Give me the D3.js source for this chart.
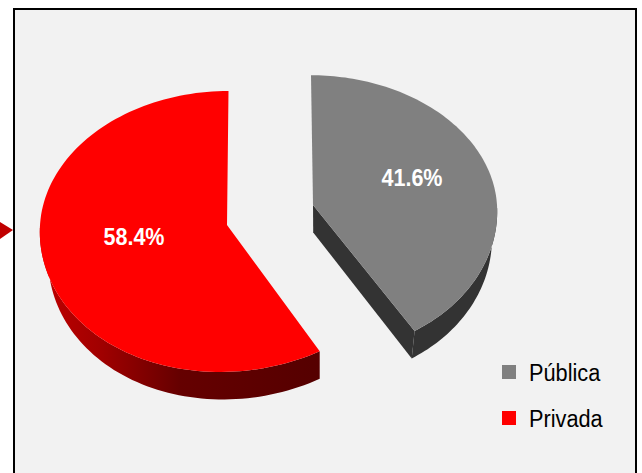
<!DOCTYPE html>
<html>
<head>
<meta charset="utf-8">
<script src="https://cdn.jsdelivr.net/npm/d3@7"></script>
<style>
  html, body { margin: 0; padding: 0; background: #fff; }
  svg { display: block; }
</style>
</head>
<body>
<svg id="chart" width="642" height="473"></svg>
<script>
// values
const categories = ["Pública", "Privada"];
const shares = [41.6, 58.4];
const sliceColors = ["#808080", "#ff0000"];

const svg = d3.select("#chart");
const defs = svg.append("defs");

// panel
svg.append("rect").attr("x", 14).attr("y", 9).attr("width", 622).attr("height", 470)
  .attr("fill", "#f2f2f2").attr("stroke", "#000").attr("stroke-width", 2);

// little arrow cut by the left border
svg.append("path").attr("d", d3.line()([[0, 222], [13, 230], [0, 239]]))
  .attr("fill", "#c00000");

// per slice placement, the slices are exploded so each one has its own center
// shear/lean/sag fake the way the 3d view skews the front and the back of each slice
const placement = [
  { cx: 313, cy: 205, rx: 184, ry: 136, shear: 7, lean: -2, sag: 5, wall: "#333333", closeWall: true },
  { cx: 227, cy: 225, rx: 187, ry: 140.5, shear: -7, lean: 1.5, sag: 0, wall: "url(#redwall)", closeWall: false }
];

const grad = defs.append("linearGradient").attr("id", "redwall")
  .attr("gradientUnits", "userSpaceOnUse")
  .attr("x1", 40).attr("x2", 320).attr("y1", 0).attr("y2", 0);
grad.append("stop").attr("offset", "0").attr("stop-color", "#c00000");
grad.append("stop").attr("offset", "0.22").attr("stop-color", "#a00000");
grad.append("stop").attr("offset", "0.5").attr("stop-color", "#650000");
grad.append("stop").attr("offset", "1").attr("stop-color", "#550000");

const pieGen = d3.pie().sort(null);
const arcs = pieGen(shares);

const persp = 0.046;
const depth = 27.5;
const vanishX = 320;

// unit circle angle -> screen point of the top face
function topPoint(p, a, r) {
  const u = Math.sin(a) * r, v = -Math.cos(a) * r;
  const s = 1 + persp * v;
  const skew = v > 0 ? p.shear * v * v : p.lean * v * v;
  const drop = v > 0 ? p.sag * v * v : 0;
  return [p.cx + p.rx * u * s + skew, p.cy + p.ry * v * s + drop];
}
// same point pushed down to the bottom of the wall
function lowPoint(pt) {
  return [vanishX + (pt[0] - vanishX) * 0.97, pt[1] + depth];
}

const line = d3.line();

function arcPoints(p, d) {
  return d3.range(0, 121).map(i => topPoint(p, d.startAngle + (d.endAngle - d.startAngle) * i / 120, 1));
}

// walls first, then faces on top
arcs.forEach((d, i) => {
  const p = placement[i];
  const rim = arcPoints(p, d);
  // only the front half of the rim has a visible wall
  const front = rim.filter(pt => pt[1] > p.cy);
  const apex = topPoint(p, 0, 0);
  svg.append("path")
    .attr("d", line(front.concat(front.map(lowPoint).reverse())) + "Z")
    .attr("fill", p.wall);
  if (p.closeWall) {
    // the cut edge that faces the viewer
    svg.append("path")
      .attr("d", line([apex, rim[rim.length - 1], lowPoint(rim[rim.length - 1]), lowPoint(apex)]) + "Z")
      .attr("fill", p.wall);
  }
});

arcs.forEach((d, i) => {
  const p = placement[i];
  const outline = [topPoint(p, 0, 0)].concat(arcPoints(p, d));
  svg.append("path").attr("d", line(outline) + "Z").attr("fill", sliceColors[i]);
});

// percentage labels
const labelPos = [[412, 178], [134, 237]];
arcs.forEach((d, i) => {
  svg.append("text")
    .attr("x", labelPos[i][0]).attr("y", labelPos[i][1])
    .attr("dy", "0.35em").attr("text-anchor", "middle")
    .attr("font-family", "'Liberation Sans', Arial, sans-serif")
    .attr("font-weight", "bold").attr("font-size", 24)
    .attr("textLength", 61).attr("lengthAdjust", "spacingAndGlyphs")
    .attr("fill", "#fff")
    .text(d3.format(".1f")(shares[i]) + "%");
});

// legend
const legendY = d3.scalePoint().domain(categories).range([372, 418]);
categories.forEach((c, i) => {
  svg.append("rect").attr("x", 502).attr("y", legendY(c) - 7)
    .attr("width", 14).attr("height", 14).attr("fill", sliceColors[i]);
  svg.append("text")
    .attr("transform", "translate(529," + (legendY(c) + 9) + ") scale(0.945,1)")
    .attr("font-family", "'Liberation Sans', Arial, sans-serif")
    .attr("font-size", 23).attr("fill", "#000")
    .text(c);
});
</script>
</body>
</html>
